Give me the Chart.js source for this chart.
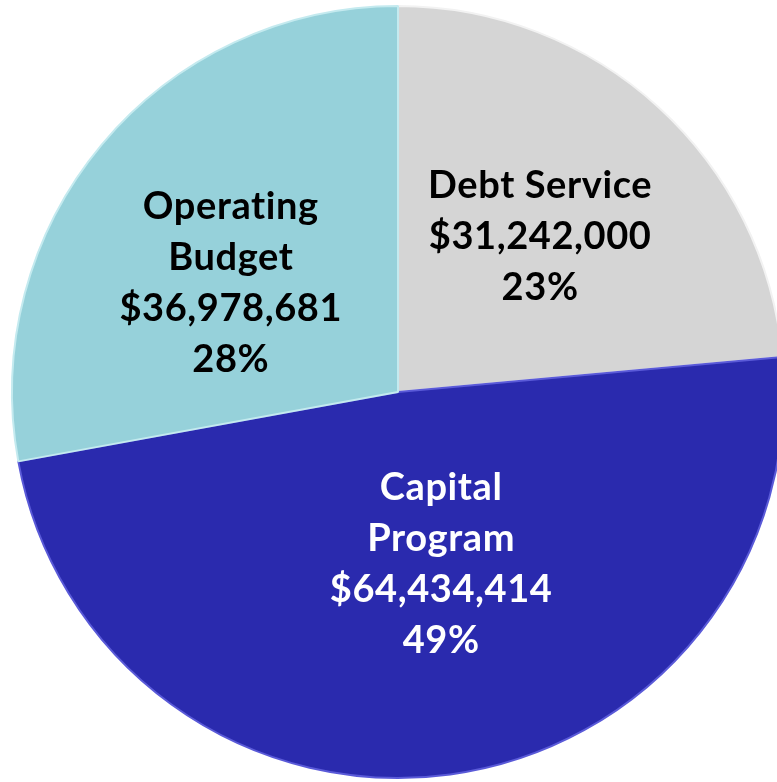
<!DOCTYPE html>
<html>
<head>
<meta charset="utf-8">
<script src="https://cdn.jsdelivr.net/npm/chart.js@4.4.0/dist/chart.umd.min.js"></script>
<style>
  html, body { margin: 0; padding: 0; background: #fff; overflow: hidden; }
  #wrap { position: relative; width: 796px; height: 782px; }
</style>
</head>
<body>
<div id="wrap"><canvas id="pie"></canvas></div>
<script>
// budget pieces, clockwise from 12 o'clock
var categories = ["Debt Service", "Capital Program", "Operating Budget"];
var amounts = [31242000, 64434414, 36978681];
var percents = ["23%", "49%", "28%"];
var labelLines = [["Debt Service"], ["Capital", "Program"], ["Operating", "Budget"]];

var fills = ["#d5d5d5", "#2a2aae", "#96d1da"];
var edges = ["#f2f2f2", "#5a5ad8", "#c4eaef"];
var textColors = ["#000", "#fff", "#000"];
// nudge labels from the arc midpoint
var labelShift = [[12, -13], [17, -19], [-19, 15]];

function money(v) {
  return "$" + v.toLocaleString("en-US");
}

// fill with a slight darkening towards the rim
function shade(ctx) {
  var chart = ctx.chart;
  var arc = chart.getDatasetMeta(0).data[ctx.dataIndex];
  var base = fills[ctx.dataIndex];
  if (!arc || !arc.outerRadius) return base;
  var g = chart.ctx.createRadialGradient(arc.x, arc.y, 0, arc.x, arc.y, arc.outerRadius);
  g.addColorStop(0, base);
  g.addColorStop(0.9, base);
  g.addColorStop(1, Chart.helpers.color(base).darken(0.18).rgbString());
  return g;
}

var sliceLabels = {
  id: "sliceLabels",
  afterDatasetsDraw: function(chart) {
    var c = chart.ctx;
    var meta = chart.getDatasetMeta(0);
    c.save();
    c.font = "bold 38px Lato, 'Open Sans', sans-serif";
    c.letterSpacing = "0.6px";
    c.textAlign = "center";
    c.textBaseline = "middle";
    meta.data.forEach(function(arc, i) {
      var p = arc.getCenterPoint();
      var lines = labelLines[i].concat([money(amounts[i]), percents[i]]);
      var lh = 51;
      var y0 = p.y + labelShift[i][1] - (lines.length - 1) * lh / 2;
      c.fillStyle = textColors[i];
      lines.forEach(function(t, k) {
        c.fillText(t, p.x + labelShift[i][0], y0 + k * lh);
      });
    });
    c.restore();
  }
};

new Chart(document.getElementById("pie"), {
  type: "pie",
  data: {
    labels: categories,
    datasets: [{
      data: amounts,
      backgroundColor: shade,
      borderColor: edges,
      borderWidth: 2
    }]
  },
  options: {
    responsive: true,
    maintainAspectRatio: false,
    animation: false,
    layout: { padding: { top: 5, bottom: 3, left: 0, right: 0 } },
    plugins: {
      legend: { display: false },
      tooltip: { enabled: false }
    }
  },
  plugins: [sliceLabels]
});
</script>
</body>
</html>
